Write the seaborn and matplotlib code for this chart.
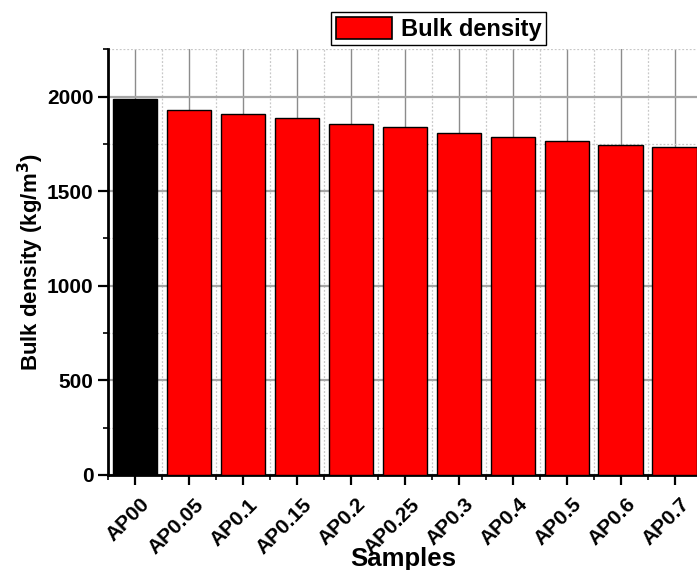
import matplotlib
matplotlib.use("Agg")
import matplotlib.pyplot as plt
import matplotlib.transforms as mtransforms
from matplotlib.patches import Patch
from matplotlib.ticker import MultipleLocator
import seaborn as sns
import pandas as pd

samples = ["AP00", "AP0.05", "AP0.1", "AP0.15", "AP0.2", "AP0.25",
           "AP0.3", "AP0.4", "AP0.5", "AP0.6", "AP0.7"]
bulk_density = [1988, 1928, 1905, 1885, 1857, 1841, 1809, 1788, 1765, 1744, 1733]
bar_colors = ["#000000"] + ["#ff0000"] * 10
y_ticks = [0, 500, 1000, 1500, 2000]

df = pd.DataFrame({"Samples": samples, "Bulk density": bulk_density})

sns.set_style("white")
plt.rcParams.update({
    "font.family": ["Liberation Sans", "DejaVu Sans"],
    "font.weight": "bold",
    "text.color": "black",
    "axes.labelcolor": "black",
    "axes.labelweight": "bold",
    "xtick.color": "black",
    "ytick.color": "black",
})

fig = plt.figure(figsize=(6.97, 5.70), dpi=100)
ax = fig.add_axes([0.155, 0.1667, 0.852, 0.747])

sns.barplot(data=df, x="Samples", y="Bulk density", hue="Samples",
            palette=bar_colors, legend=False, width=0.83,
            edgecolor="black", linewidth=1.0, saturation=1, ax=ax, zorder=3)

ax.set_xlim(-0.5, 10.5)
ax.set_ylim(0, 2250)
ax.set_yticks(y_ticks)
ax.yaxis.set_minor_locator(MultipleLocator(250))
ax.xaxis.set_minor_locator(MultipleLocator(1, offset=0.5))

ax.set_axisbelow(True)
ax.grid(which="major", axis="y", color="#a6a6a6", linewidth=1.6, linestyle="-")
ax.grid(which="major", axis="x", color="#8c8c8c", linewidth=1.0, linestyle="-")
ax.grid(which="minor", axis="both", color="#c8c8c8", linewidth=0.9, linestyle=(0, (1.5, 1.5)))

for side in ("top", "right"):
    ax.spines[side].set_visible(False)
for side in ("left", "bottom"):
    ax.spines[side].set_color("black")
    ax.spines[side].set_linewidth(2.0)

ax.set_xticks(range(len(samples)))
ax.set_xticklabels(samples, rotation=45, ha="right", va="center",
                   rotation_mode="anchor")

ax.tick_params(which="major", direction="out", length=7, width=1.6,
               color="black", labelcolor="black", bottom=True, left=True)
ax.tick_params(which="minor", direction="out", length=3.5, width=1.2,
               color="black", bottom=True, left=True)
for lbl in ax.get_yticklabels():
    lbl.set_fontweight("bold")
    lbl.set_fontsize(15)
for lbl in ax.get_xticklabels():
    lbl.set_fontweight("bold")
    lbl.set_fontsize(15)

offset = mtransforms.ScaledTranslation(12 / 100, -12 / 100, fig.dpi_scale_trans)
for lbl in ax.get_xticklabels():
    lbl.set_transform(lbl.get_transform() + offset)

ax.set_xlabel("Samples", fontsize=18.5, fontweight="bold")
ax.xaxis.set_label_coords(0.497, -0.168)
ax.set_ylabel("Bulk density (kg/m$^\\mathbf{3}$)", fontsize=16, fontweight="bold")
ax.yaxis.set_label_coords(-0.104, 0.5)

handle = Patch(facecolor="#ff0000", edgecolor="black", linewidth=1.2, label="Bulk density")
fig.legend(handles=[handle], loc="upper left", bbox_to_anchor=(0.475, 0.979),
           bbox_transform=fig.transFigure, fancybox=False, framealpha=1,
           edgecolor="black", prop={"weight": "bold", "size": 17},
           handlelength=2.4, handleheight=1.05, borderpad=0.2,
           handletextpad=0.35, borderaxespad=0)

fig.savefig("out.png", dpi=100)
